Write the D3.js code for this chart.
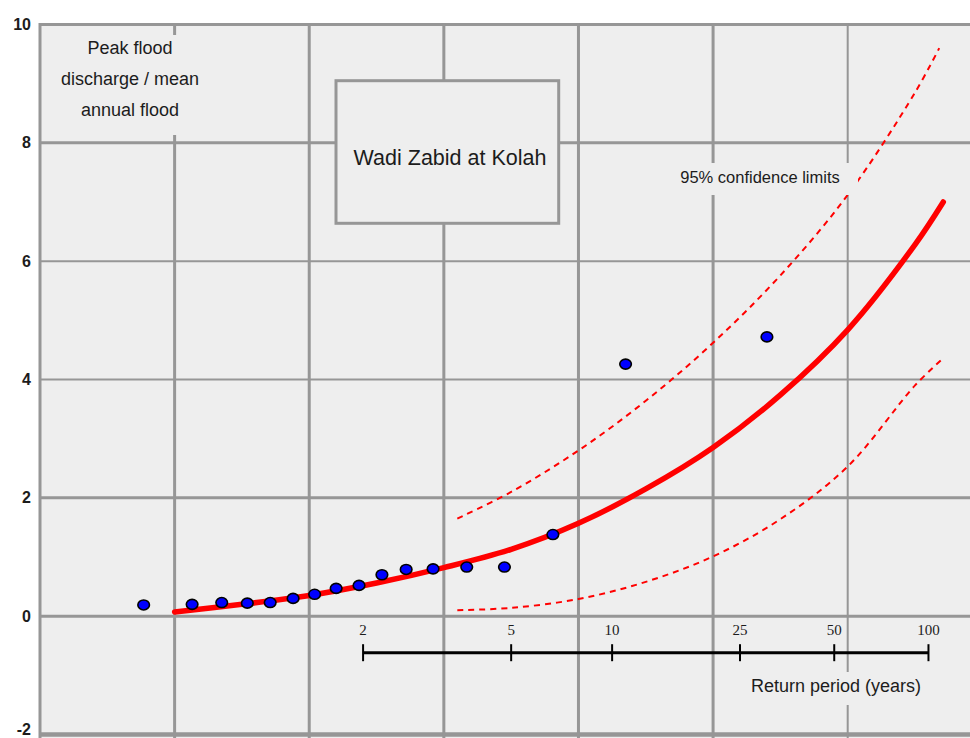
<!DOCTYPE html>
<html>
<head>
<meta charset="utf-8">
<script src="https://cdn.jsdelivr.net/npm/d3@7"></script>
<style>
  html, body { margin: 0; padding: 0; background: #ffffff; }
  svg { display: block; }
  text { font-family: "Liberation Sans", Arial, sans-serif; fill: #1c1c1c; }
</style>
</head>
<body>
<svg id="chart" width="970" height="738"></svg>
<script>
// Gumbel reduced variate (x) of each observed annual flood and its ratio to the mean annual flood (y)
const obsVariate = [-1.23, -0.87, -0.65, -0.46, -0.29, -0.12, 0.04, 0.20, 0.37, 0.54, 0.72, 0.92, 1.17, 1.45, 1.81, 2.35, 3.40];
const obsRatio   = [0.19, 0.20, 0.23, 0.22, 0.23, 0.30, 0.37, 0.47, 0.52, 0.70, 0.79, 0.80, 0.83, 0.83, 1.38, 4.26, 4.72];

// Fitted growth curve
const fitVariate = [-1.0, -0.5, 0.0, 0.5, 1.0, 1.5, 2.0, 2.5, 3.0, 3.5, 4.0, 4.5, 4.71];
const fitRatio   = [0.07, 0.20, 0.35, 0.56, 0.82, 1.13, 1.57, 2.15, 2.85, 3.74, 4.84, 6.28, 7.00];

// 95% confidence limits
const upperVariate = [1.10, 1.5, 2.0, 2.5, 3.0, 3.5, 4.0, 4.5, 4.68];
const upperRatio   = [1.65, 2.10, 2.80, 3.64, 4.62, 5.76, 7.12, 8.85, 9.60];
const lowerVariate = [1.10, 1.5, 2.0, 2.5, 3.0, 3.5, 4.0, 4.5, 4.71];
const lowerRatio   = [0.10, 0.14, 0.29, 0.58, 1.01, 1.64, 2.53, 3.90, 4.36];

// Return period scale (years) and where each sits on the reduced variate axis
const returnPeriods = ["2", "5", "10", "25", "50", "100"];
const returnVariate = [0.40, 1.50, 2.25, 3.20, 3.90, 4.60];

// Grid
const yTicks = [-2, 0, 2, 4, 6, 8, 10];
const xGrid  = [-2, -1, 0, 1, 2, 3, 4];

const svg = d3.select("#chart");
const W = 970, H = 738;

const x = d3.scaleLinear().domain([-2, 4]).range([40, 847.7]);
const y = d3.scaleLinear().domain([-2, 10]).range([734.5, 24.5]);

const gridColor = "#969696";
const panelFill = "#eeeeee";

// plotting panel
svg.append("rect")
  .attr("x", x(-2)).attr("y", y(10))
  .attr("width", W - x(-2)).attr("height", H - y(10))
  .attr("fill", panelFill);

// horizontal grid lines
const hWidth = v => v === -2 ? 4.5 : (v === 4 || v === 6 ? 2 : 3);
svg.append("g").selectAll("line").data(yTicks).join("line")
  .attr("x1", x(-2)).attr("x2", W)
  .attr("y1", d => y(d)).attr("y2", d => y(d))
  .attr("stroke", gridColor)
  .attr("stroke-width", hWidth);

// vertical grid lines
svg.append("g").selectAll("line").data(xGrid).join("line")
  .attr("x1", d => x(d)).attr("x2", d => x(d))
  .attr("y1", y(10) - 1.5).attr("y2", H)
  .attr("stroke", gridColor)
  .attr("stroke-width", d => d === 4 ? 2 : 3);

// y axis labels (the bottom one sits against the lower edge)
const yAxis = d3.axisLeft(y).tickValues(yTicks).tickSize(0).tickPadding(9).tickFormat(d => String(d));
const yAxisG = svg.append("g").attr("transform", `translate(${x(-2)},0)`).call(yAxis);
yAxisG.select(".domain").remove();
yAxisG.selectAll("text")
  .attr("font-family", '"Liberation Sans", Arial, sans-serif')
  .attr("font-size", 16).attr("font-weight", "bold")
  .attr("fill", "#1c1c1c");
yAxisG.selectAll(".tick").filter(d => d === -2).select("text").attr("y", -5);

// curves
const toPoints = (xs, ys) => xs.map((v, i) => [v, ys[i]]);
const line = d3.line().x(d => x(d[0])).y(d => y(d[1])).curve(d3.curveCatmullRom.alpha(0.5));

svg.append("path")
  .datum(toPoints(upperVariate, upperRatio))
  .attr("d", line).attr("fill", "none")
  .attr("stroke", "#ff0000").attr("stroke-width", 2)
  .attr("stroke-dasharray", "6,5");

svg.append("path")
  .datum(toPoints(lowerVariate, lowerRatio))
  .attr("d", line).attr("fill", "none")
  .attr("stroke", "#ff0000").attr("stroke-width", 2)
  .attr("stroke-dasharray", "6,5");

svg.append("path")
  .datum(toPoints(fitVariate, fitRatio))
  .attr("d", line).attr("fill", "none")
  .attr("stroke", "#ff0000").attr("stroke-width", 5.5)
  .attr("stroke-linecap", "round");

// observed floods
svg.append("g").selectAll("ellipse").data(toPoints(obsVariate, obsRatio)).join("ellipse")
  .attr("cx", d => x(d[0])).attr("cy", d => y(d[1]))
  .attr("rx", 5.8).attr("ry", 5)
  .attr("fill", "#0000ff")
  .attr("stroke", "#000000").attr("stroke-width", 1.6);

// return period scale
const rp = svg.append("g").attr("transform", "translate(0,652.7)");
rp.append("line")
  .attr("x1", x(returnVariate[0])).attr("x2", x(returnVariate[returnVariate.length - 1]))
  .attr("stroke", "#000").attr("stroke-width", 3);
rp.selectAll("line.tick").data(returnVariate).join("line")
  .attr("class", "tick")
  .attr("x1", d => x(d)).attr("x2", d => x(d))
  .attr("y1", -8.5).attr("y2", 8.5)
  .attr("stroke", "#000").attr("stroke-width", 2);
rp.selectAll("text").data(returnPeriods).join("text")
  .attr("x", (d, i) => x(returnVariate[i]))
  .attr("y", -22.5)
  .attr("dy", "0.35em")
  .attr("text-anchor", "middle")
  .style("font-family", '"Liberation Serif", "Times New Roman", serif')
  .attr("font-size", 15)
  .text(d => d);

// label backings that break the grid
const backing = (x0, y0, x1, y1) =>
  svg.append("rect").attr("x", x0).attr("y", y0)
    .attr("width", x1 - x0).attr("height", y1 - y0).attr("fill", panelFill);

backing(55, 35, 205, 135);
backing(672, 163, 858, 195);
backing(745, 672, 927, 705);

// y axis caption
const cap = svg.append("text").attr("text-anchor", "middle").attr("font-size", 18);
["Peak flood", "discharge / mean", "annual flood"].forEach((t, i) => {
  cap.append("tspan").attr("x", 130).attr("y", 47.5 + i * 31).attr("dy", "0.35em").text(t);
});

svg.append("text")
  .attr("x", 760).attr("y", 177).attr("dy", "0.35em")
  .attr("text-anchor", "middle").attr("font-size", 16.5)
  .text("95% confidence limits");

svg.append("text")
  .attr("x", 836).attr("y", 686).attr("dy", "0.35em")
  .attr("text-anchor", "middle").attr("font-size", 18)
  .text("Return period (years)");

// station title box
svg.append("rect")
  .attr("x", 336).attr("y", 80.7)
  .attr("width", 222.7).attr("height", 142.6)
  .attr("fill", panelFill)
  .attr("stroke", gridColor).attr("stroke-width", 3);

svg.append("text")
  .attr("x", 450).attr("y", 157).attr("dy", "0.35em")
  .attr("text-anchor", "middle").attr("font-size", 21.5)
  .text("Wadi Zabid at Kolah");
</script>
</body>
</html>
